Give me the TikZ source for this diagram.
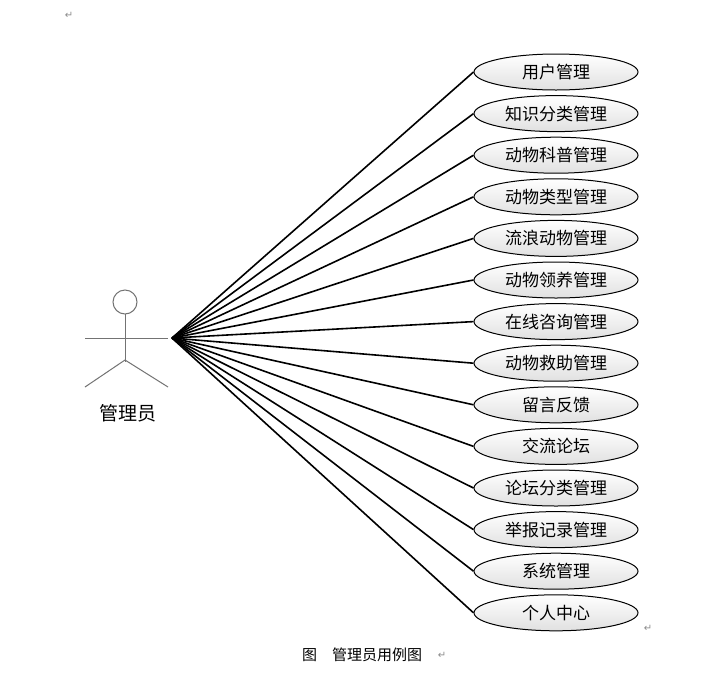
\documentclass[tikz,border=0pt]{standalone}
\usepackage{fontspec}
\setmainfont{Noto Sans CJK SC}
\newfontfamily\symfont{DejaVu Sans}
\usetikzlibrary{shapes.geometric}
\begin{document}
\begin{tikzpicture}[x=1pt,y=-1pt,
  uc/.style={ellipse,draw,line width=1pt,minimum width=164pt,minimum height=36pt,inner sep=0pt,top color=white,bottom color=black!12,font=\fontsize{17}{17}\selectfont},
  act/.style={draw=black!55,line width=1pt},
  link/.style={line width=1.6pt},
  ret/.style={text=black!45,font=\symfont\fontsize{10}{10}\selectfont}]
\useasboundingbox (0,0) rectangle (717,678);
\fill[white] (0,0) rectangle (717,678);
% actor
\draw[act] (125,302) circle (12);
\draw[act] (125,314) -- (125,362);
\draw[act] (85,338) -- (168,338);
\draw[act] (125,360) -- (85,387);
\draw[act] (125,360) -- (168,387);
\coordinate (hub) at (172,338);
\node[font=\fontsize{19}{19}\selectfont] (lbl) at (128,413) {管理员};
\foreach \i/\t in {0/用户管理,1/知识分类管理,2/动物科普管理,3/动物类型管理,4/流浪动物管理,5/动物领养管理,6/在线咨询管理,7/动物救助管理,8/留言反馈,9/交流论坛,10/论坛分类管理,11/举报记录管理,12/系统管理,13/个人中心}{
  \node[uc] (u\i) at (556,{72+41.6*\i}) {\t};
  \draw[link] (hub) -- (u\i.west);
}
\node[font=\fontsize{15}{15}\selectfont] (cap) at (362,655) {图\quad 管理员用例图};
\node[ret] (r1) at (69,15) {↵};
\node[ret] (r2) at (648,628) {↵};
\node[ret] (r3) at (442,655) {↵};
\end{tikzpicture}
\end{document}
